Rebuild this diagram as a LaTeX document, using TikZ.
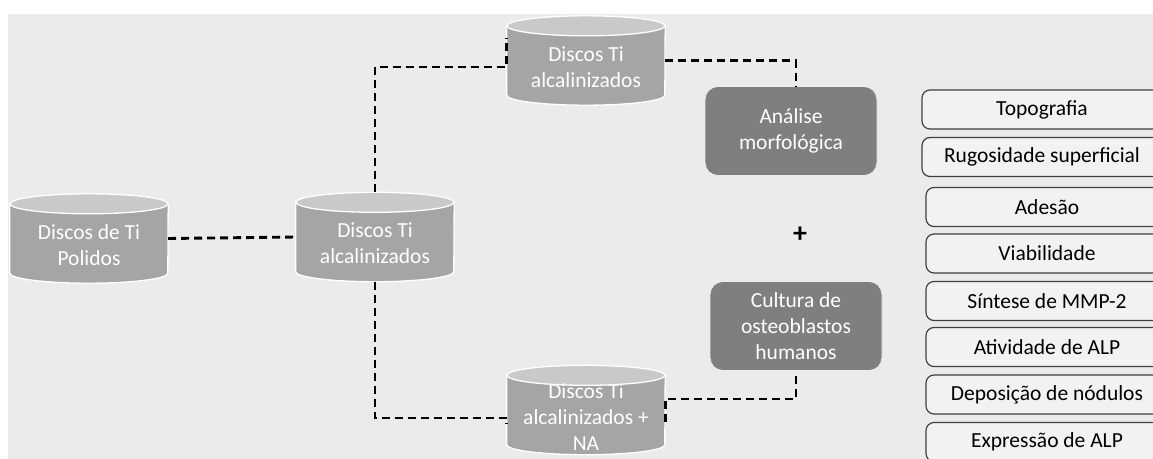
\documentclass[tikz,border=0pt]{standalone}
\usepackage{fontspec}
\setmainfont{Carlito}
\usetikzlibrary{backgrounds}
\definecolor{bg}{HTML}{EBEBEB}
\definecolor{cylbody}{HTML}{A5A5A5}
\definecolor{cyltop}{HTML}{C9C9C9}
\definecolor{boxdark}{HTML}{7F7F7F}
\definecolor{boxlight}{HTML}{F2F2F2}
\definecolor{boxline}{HTML}{404040}
\newcommand\cylpad{\rule{0pt}{28pt}}
\tikzset{
  cylnode/.style={rectangle, draw=none, minimum width=158pt, minimum height=89pt,
    text=white, align=center, inner sep=0pt, font=\fontsize{21.5}{26}\selectfont},
  darkbox/.style={rectangle, rounded corners=13pt, fill=boxdark, draw=white!85!boxdark,
    line width=0.8pt, minimum width=172pt, minimum height=89pt, text=white, align=center,
    font=\fontsize{21.5}{26}\selectfont},
  itembox/.style={rectangle, rounded corners=8pt, fill=boxlight, draw=boxline,
    line width=1.2pt, minimum width=240pt, minimum height=39pt, inner sep=0pt,
    font=\fontsize{21.5}{24}\selectfont},
  conn/.style={draw=black, line width=2.9pt, dash pattern=on 8pt off 5pt},
}
\newcommand\drawcyl[1]{%
  \filldraw[fill=cylbody, draw=white, line width=1.3pt]
    ([yshift=-10pt]#1.north west) -- ([yshift=10pt]#1.south west)
    arc[start angle=180, end angle=360, x radius=79pt, y radius=10pt]
    -- ([yshift=-10pt]#1.north east) -- cycle;
  \filldraw[fill=cyltop, draw=white, line width=1.3pt]
    ([yshift=-10pt]#1.north) ellipse[x radius=79pt, y radius=10pt];
}
\begin{document}
\begin{tikzpicture}[x=1pt, y=-1pt]
\clip (0,0) rectangle (1153,458);

% cylinders
\node[cylnode] (c1) at (89,238.5) {\cylpad Discos de Ti\\Polidos};
\node[cylnode] (c2) at (375,237) {\cylpad Discos Ti\\alcalinizados};
\node[cylnode] (c3) at (586,60.5) {\cylpad Discos Ti\\alcalinizados};
\node[cylnode] (c4) at (586,410) {\cylpad Discos Ti\\alcalinizados +\\NA};
\begin{scope}[on background layer]
  \fill[white] (0,0) rectangle (1153,458);
  \fill[bg] (8,14) rectangle (1160,470);
  \drawcyl{c1}
  \drawcyl{c2}
  \drawcyl{c3}
  \drawcyl{c4}
\end{scope}

% dark boxes
\node[darkbox] (a1) at (791,131) {Análise\\morfológica};
\node[darkbox] (a2) at (796,326) {Cultura de\\osteoblastos\\humanos};
\node[font=\fontsize{28}{30}\selectfont\bfseries] (plus) at (800,235) {+};

% connectors
\draw[conn] (c1.east) -- (c2.west);
\draw[conn] (c2.north) |- ([yshift=-6.5pt]c3.west) -- ([yshift=22.5pt]c3.west);
\draw[conn] (c3.east) -| ([xshift=5pt]a1.north);
\draw[conn] (c2.south) |- ([yshift=-8pt]c4.west) -- ([yshift=-13pt]c4.west);
\draw[conn] ([yshift=-12pt]c4.east) -- ([yshift=11pt]c4.east) -| (a2.south);

% item boxes
\node[itembox] (t1) at (1042,109.5) {Topografia};
\node[itembox] (t2) at (1042,157) {Rugosidade superficial};
\node[itembox, minimum width=242pt] (t3) at (1047,207) {Adesão};
\node[itembox, minimum width=242pt] (t4) at (1047,253.5) {Viabilidade};
\node[itembox, minimum width=242pt] (t5) at (1047,301) {Síntese de MMP-2};
\node[itembox, minimum width=242pt] (t6) at (1047,347) {Atividade de ALP};
\node[itembox, minimum width=242pt] (t7) at (1047,394.5) {Deposição de nódulos};
\node[itembox, minimum width=242pt] (t8) at (1047,442) {Expressão de ALP};
\end{tikzpicture}
\end{document}
